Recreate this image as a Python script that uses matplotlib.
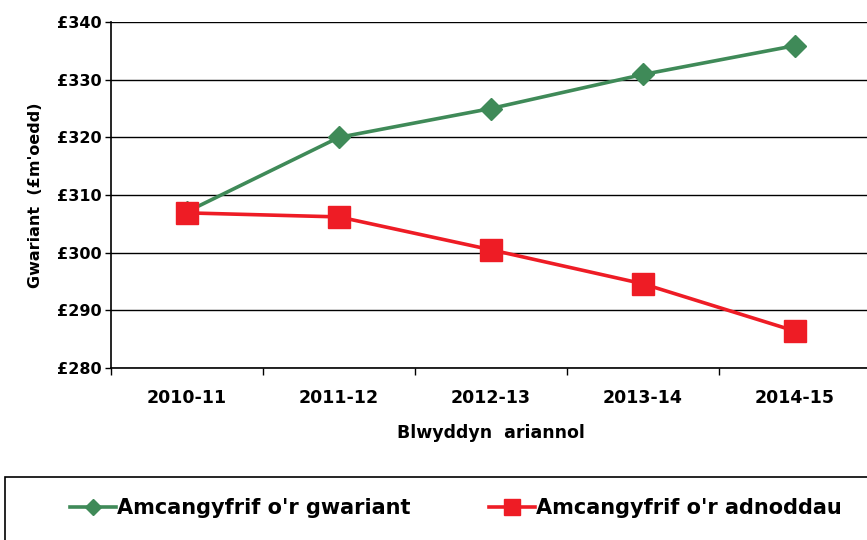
import matplotlib
matplotlib.use("Agg")
import matplotlib.pyplot as plt
from matplotlib.patches import Rectangle

years = ["2010-11", "2011-12", "2012-13", "2013-14", "2014-15"]
gwariant = [307.1, 320.0, 325.0, 330.9, 335.9]
adnoddau = [306.9, 306.2, 300.5, 294.6, 286.4]
yticks = [280, 290, 300, 310, 320, 330, 340]
ytick_labels = ["£%d" % v for v in yticks]

plt.rcParams['font.family'] = ['DejaVu Sans']
plt.rcParams['font.weight'] = 'bold'

fig = plt.figure(figsize=(8.67, 5.40), dpi=100)
ax = fig.add_axes([111/867, 1-368/540, 760/867, 346/540])

x = list(range(len(years)))
green = '#3f8a58'
red = '#ee1c25'
ax.plot(x, gwariant, color=green, lw=2.6, marker='D', ms=11.5, mec=green, mfc=green,
        label="Amcangyfrif o'r gwariant", zorder=3)
ax.plot(x, adnoddau, color=red, lw=2.6, marker='s', ms=16, mec=red, mfc=red,
        label="Amcangyfrif o'r adnoddau", zorder=4)

ax.set_xlim(-0.5, 4.5)
ax.set_ylim(280, 340)
ax.set_yticks(yticks)
ax.set_yticklabels(ytick_labels, fontsize=11.5, fontweight='bold')
ax.set_xticks([i - 0.5 for i in range(6)])
ax.set_xticklabels([])
ax.set_xticks(x, minor=True)
ax.set_xticklabels(years, minor=True, fontsize=12.5, fontweight='bold')
ax.tick_params(axis='x', which='major', length=5, width=1, direction='out')
ax.tick_params(axis='x', which='minor', length=0, pad=15)
ax.tick_params(axis='y', length=4, width=1, pad=3)
ax.yaxis.grid(True, color='black', lw=1)
ax.set_axisbelow(True)
for s in ['top', 'right']:
    ax.spines[s].set_visible(False)
for s in ['left', 'bottom']:
    ax.spines[s].set_linewidth(1.2)

ax.set_ylabel("Gwariant  (£m'oedd)", fontsize=11.5, fontweight='bold', labelpad=10)
ax.set_xlabel("Blwyddyn  ariannol", fontsize=12.5, fontweight='bold', labelpad=12)

fig.patches.append(Rectangle((5/867, -0.1), 1.0, 0.1 + 63/540, transform=fig.transFigure,
                             fill=False, edgecolor='black', lw=1.2))
leg = fig.legend(loc='center', bbox_to_anchor=(456/867, 1-508/540), ncol=2, frameon=False,
                 prop={'size': 15, 'weight': 'bold'}, columnspacing=3.8,
                 handlelength=2.2, handletextpad=0.05, markerscale=0.7)

fig.savefig("out.png", dpi=100)
